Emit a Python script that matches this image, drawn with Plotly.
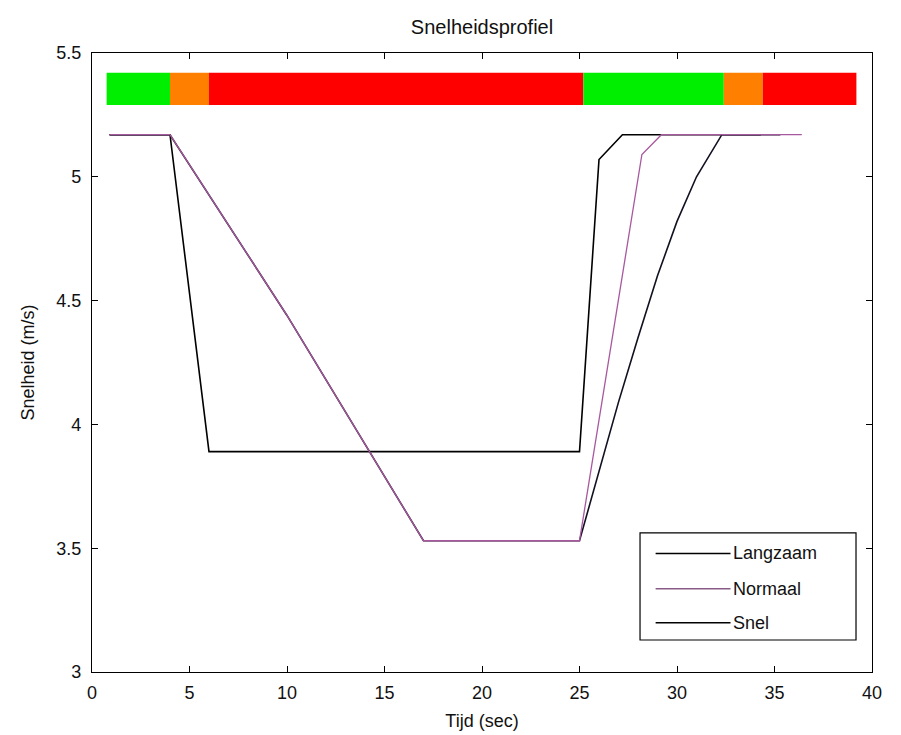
import plotly.graph_objects as go

# Data
lang_x = [0.9, 4, 6, 25, 26, 27.2, 34.3]
lang_y = [5.17, 5.17, 3.89, 3.89, 5.07, 5.17, 5.17]
norm_x = [0.9, 4, 10, 17, 25, 28.2, 29.2, 36.4]
norm_y = [5.17, 5.17, 4.44, 3.53, 3.53, 5.09, 5.17, 5.17]
snel_x = [0.9, 4, 10, 17, 25, 26, 27, 28, 29, 30, 31, 32.3, 35.3]
snel_y = [5.17, 5.17, 4.44, 3.53, 3.53, 3.81, 4.09, 4.35, 4.6, 4.82, 5.0, 5.17, 5.17]

seg_start = [0.75, 4.0, 6.0, 25.2, 32.4, 34.4]
seg_end = [4.0, 6.0, 25.2, 32.4, 34.4, 39.2]
seg_color = ["#00ee00", "#ff8000", "#ff0000", "#00ee00", "#ff8000", "#ff0000"]
bar_y = 5.355
bar_h = 0.13

x_ticks = [0, 5, 10, 15, 20, 25, 30, 35, 40]
y_ticks = [3, 3.5, 4, 4.5, 5, 5.5]
y_tick_text = ["3", "3.5", "4", "4.5", "5", "5.5"]

legend_names = ["Langzaam", "Normaal", "Snel"]
legend_colors = ["#000000", "#8a5a86", "#000000"]

FONT = "Liberation Sans, Arial, sans-serif"

fig = go.Figure()

for s, e, c in zip(seg_start, seg_end, seg_color):
    fig.add_trace(go.Bar(x=[e - s], base=[s], y=[bar_y], width=bar_h, orientation="h",
                         marker=dict(color=c, line=dict(width=0)), showlegend=False,
                         hoverinfo="skip"))

fig.add_trace(go.Scatter(x=lang_x, y=lang_y, mode="lines", name="Langzaam",
                         line=dict(color="#000000", width=1.6), showlegend=False))
fig.add_trace(go.Scatter(x=snel_x, y=snel_y, mode="lines", name="Snel",
                         line=dict(color="#111122", width=1.6), showlegend=False))
fig.add_trace(go.Scatter(x=norm_x, y=norm_y, mode="lines", name="Normaal",
                         line=dict(color="#a8589e", width=1.3), showlegend=False))

# manual legend (MATLAB style)
lx0, lx1, ly0, ly1 = 0.7026, 0.9795, 0.0517, 0.2246
fig.add_shape(type="rect", xref="paper", yref="paper", x0=lx0, x1=lx1, y0=ly0, y1=ly1,
              line=dict(color="black", width=1.2), fillcolor="white", layer="above")
row_y = [ly1 - 0.033, ly1 - 0.090, ly1 - 0.145]
for name, col, yy in zip(legend_names, legend_colors, row_y):
    fig.add_shape(type="line", xref="paper", yref="paper", x0=lx0 + 0.020, x1=lx0 + 0.116,
                  y0=yy, y1=yy, line=dict(color=col, width=1.5), layer="above")
    fig.add_annotation(xref="paper", yref="paper", x=lx0 + 0.117, y=yy, text=name,
                       showarrow=False, xanchor="left", yanchor="middle",
                       font=dict(family=FONT, size=18, color="#111"))

fig.update_layout(
    width=901, height=735,
    margin=dict(l=92, r=29, t=53, b=63, autoexpand=False),
    paper_bgcolor="white", plot_bgcolor="white",
    barmode="overlay",
    showlegend=False,
    title=dict(text="Snelheidsprofiel", x=0.535, xanchor="center", y=0.963, yanchor="middle",
               font=dict(family=FONT, size=20, color="#111")),
    font=dict(family=FONT, size=18, color="#111"),
)
fig.update_xaxes(range=[0, 40], tickvals=x_ticks, ticks="inside", ticklen=6, tickcolor="black",
                 showline=True, linecolor="black", linewidth=1.2, mirror="ticks",
                 showgrid=False, zeroline=False, ticklabelstandoff=4, automargin=False,
                 title=dict(text="Tijd (sec)", standoff=12, font=dict(size=18)))
fig.update_yaxes(range=[3, 5.5], tickvals=y_ticks, ticktext=y_tick_text, ticks="inside",
                 ticklen=6, tickcolor="black",
                 showline=True, linecolor="black", linewidth=1.2, mirror="ticks",
                 showgrid=False, zeroline=False, ticklabelstandoff=6, automargin=False,
                 title=dict(text="Snelheid (m/s)", standoff=16, font=dict(size=18)))

fig.write_html("out.html")
